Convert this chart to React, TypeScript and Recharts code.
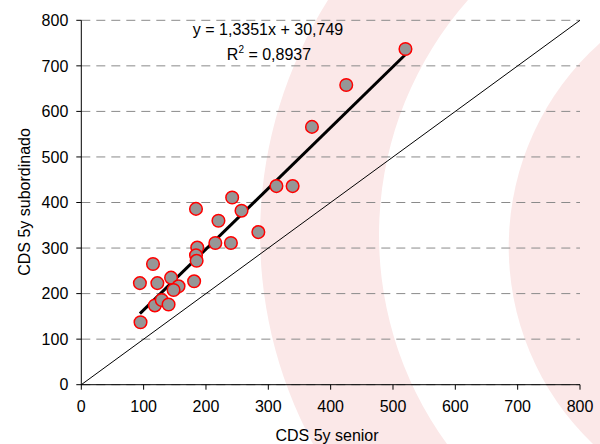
import React from 'react';
import { ScatterChart, Scatter, XAxis, YAxis, CartesianGrid, ReferenceLine } from 'recharts';

const seniorCds = [520, 425, 370, 313, 339, 242, 184, 257, 220, 284, 215, 240, 186, 184, 185, 115, 94, 122, 144, 181, 156, 148, 118, 129, 140, 95];
const subordinatedCds = [737, 658, 566, 436, 436, 411, 386, 382, 360, 335, 311, 311, 301, 284, 272, 265, 223, 223, 235, 227, 216, 208, 174, 186, 176, 137];
const axisTicks = [0, 100, 200, 300, 400, 500, 600, 700, 800];
const trendX = [94, 520];
const trendY = [156, 725];
const diagonal = [0, 800];
const equationText = 'y = 1,3351x + 30,749';
const r2Value = '0,8937';

const points = seniorCds.map((x, i) => ({ x, y: subordinatedCds[i] }));
const FONT = '"Liberation Sans", Arial, sans-serif';

export default function App() {
  return (
    <div style={{ position: 'absolute', left: 0, top: 0, width: 600, height: 444, background: '#fff', overflow: 'hidden' }}>
      <svg width={600} height={444} style={{ position: 'absolute', left: 0, top: 0 }}>
        <path d="M 328 0 A 440 440 0 0 0 313 444 L 447 444 A 355 355 0 0 1 468 0 Z" fill="#fbe8e8" />
        <path d="M 600 43 A 273 273 0 0 0 593 444 L 600 444 Z" fill="#fbe8e8" />
      </svg>
      <div style={{ position: 'absolute', left: 0, top: 0 }}>
        <ScatterChart width={600} height={444} margin={{ top: 20.3, right: 20, bottom: 19.3, left: 21.3 }}>
          <CartesianGrid vertical={false} stroke="#8a8a8a" strokeDasharray="9 6" />
          <XAxis
            type="number"
            dataKey="x"
            domain={[0, 800]}
            ticks={axisTicks}
            height={40}
            stroke="#000"
            tickSize={5}
            tickMargin={11}
            tick={{ fill: '#000', fontSize: 16, fontFamily: FONT }}
            allowDataOverflow
          />
          <YAxis
            type="number"
            dataKey="y"
            domain={[0, 800]}
            ticks={axisTicks}
            width={60}
            stroke="#000"
            tickSize={5}
            tickMargin={8}
            tick={{ fill: '#000', fontSize: 16, fontFamily: FONT }}
            allowDataOverflow
          />
          <ReferenceLine
            segment={[{ x: diagonal[0], y: diagonal[0] }, { x: diagonal[1], y: diagonal[1] }]}
            stroke="#000"
            strokeWidth={1}
          />
          <Scatter
            data={points}
            fill="#969696"
            stroke="#ff0000"
            strokeWidth={1.5}
            isAnimationActive={false}
            shape={(props: any) => (
              <circle cx={props.cx} cy={props.cy} r={6.3} fill="#969696" stroke="#ff0000" strokeWidth={1.5} />
            )}
          />
          <ReferenceLine
            segment={[{ x: trendX[0], y: trendY[0] }, { x: trendX[1], y: trendY[1] }]}
            stroke="#000"
            strokeWidth={3}
          />
        </ScatterChart>
      </div>
      <svg width={600} height={444} style={{ position: 'absolute', left: 0, top: 0, pointerEvents: 'none' }}>
        <text x={268} y={35} textAnchor="middle" fontSize={16} fontFamily={FONT} fill="#000">{equationText}</text>
        <text x={269} y={60} textAnchor="middle" fontSize={16} fontFamily={FONT} fill="#000">
          R<tspan fontSize={10} dy={-7}>2</tspan><tspan dy={7}>{' = ' + r2Value}</tspan>
        </text>
        <text x={327} y={440.5} textAnchor="middle" fontSize={16} fontFamily={FONT} fill="#000">CDS 5y senior</text>
        <text x={30} y={202} textAnchor="middle" fontSize={16} fontFamily={FONT} fill="#000" transform="rotate(-90, 30, 202)">CDS 5y subordinado</text>
      </svg>
    </div>
  );
}
